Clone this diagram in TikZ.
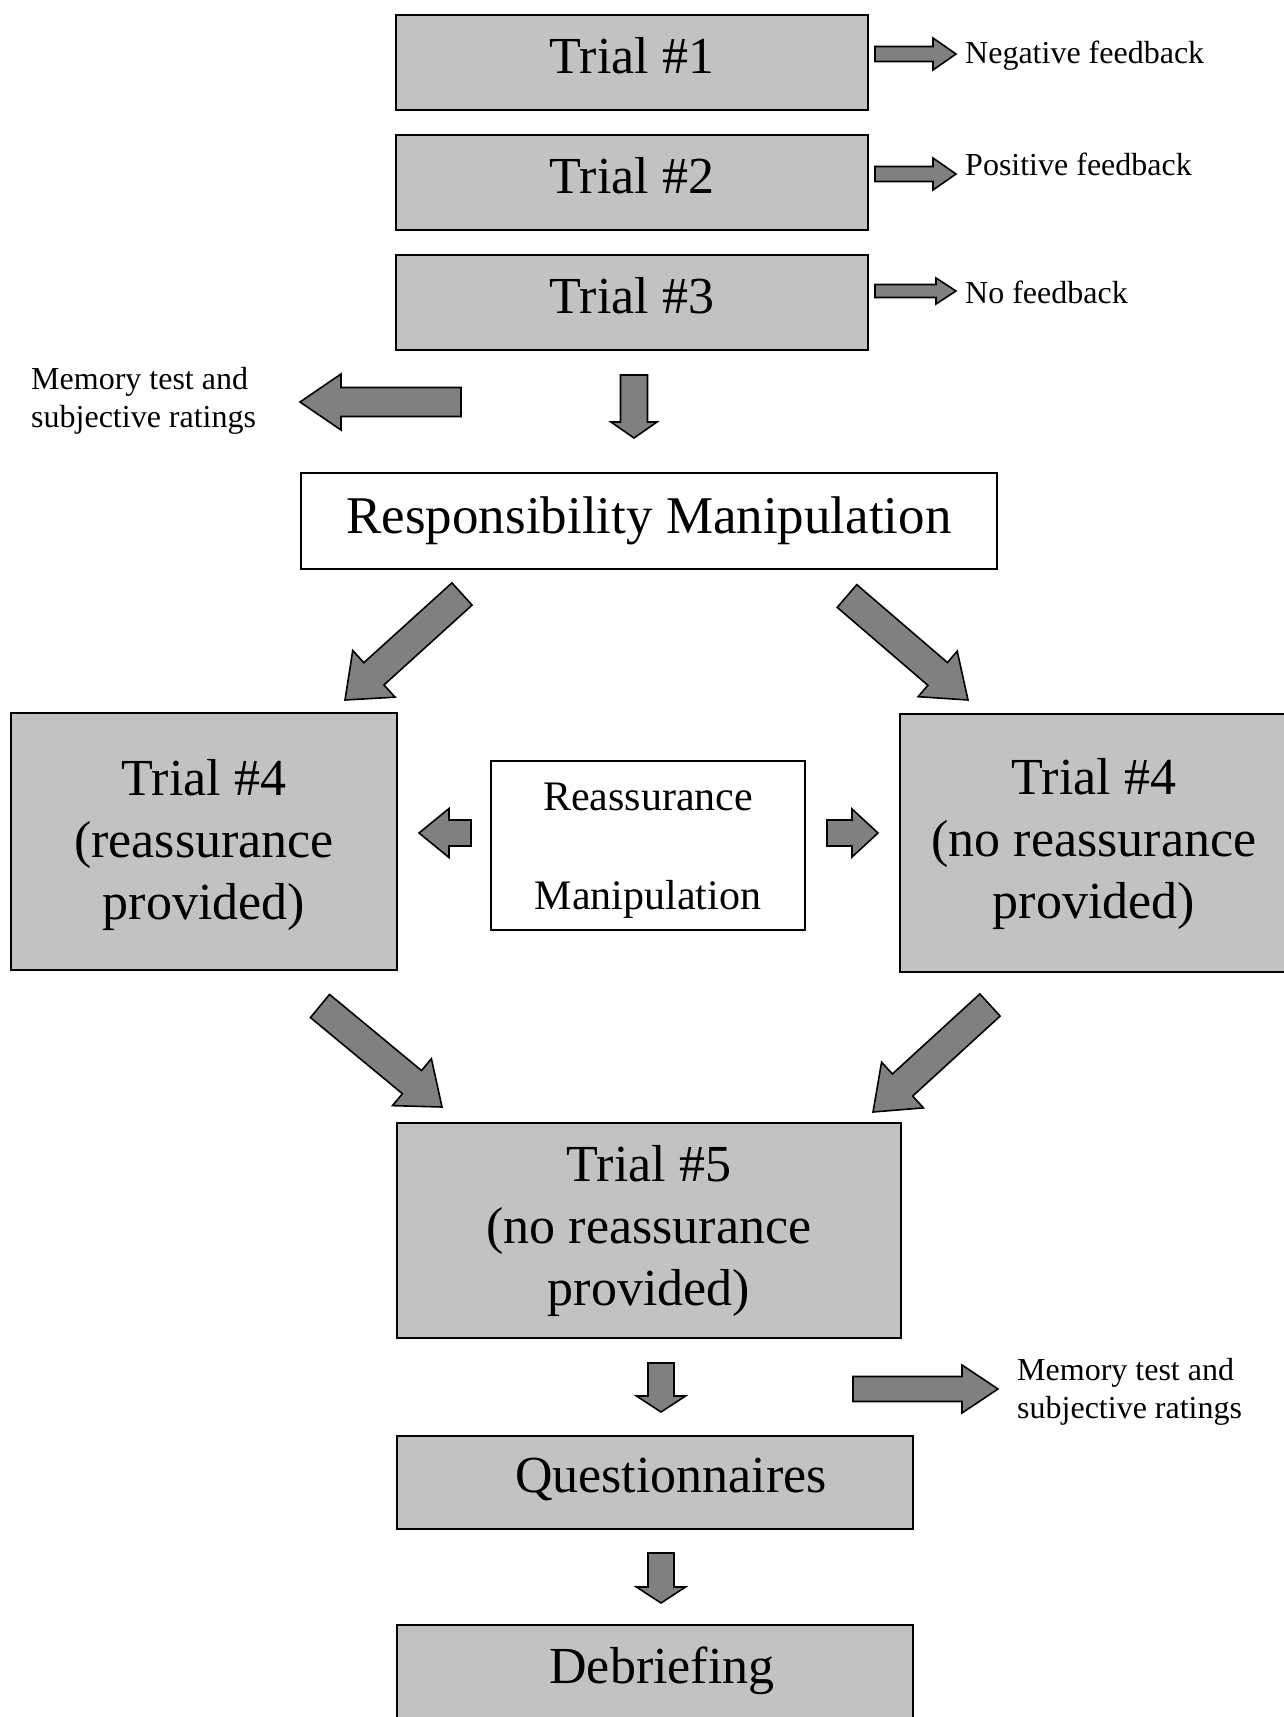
\documentclass[tikz,border=0pt]{standalone}
\usepackage{fontspec}
\setmainfont{Liberation Serif}
\usetikzlibrary{calc}
\definecolor{boxfill}{gray}{0.76}
\definecolor{arrowfill}{gray}{0.5}
\newcommand{\FontBig}{\fontsize{52}{62}\selectfont}
\newcommand{\FontResp}{\fontsize{53}{62}\selectfont}
\newcommand{\FontMid}{\fontsize{42}{99}\selectfont}
\newcommand{\FontSmall}{\fontsize{32}{38}\selectfont}
% tail, tip, shaft half width, head half width, head length (pt)
\newcommand{\blockarrow}[5]{%
  \coordinate (ba-h) at ($(#2)!#5pt!(#1)$);
  \draw[blockarr] ($(#1)!#3pt!90:(#2)$) -- ($(ba-h)!#3pt!90:(#2)$)
    -- ($(ba-h)!#4pt!90:(#2)$) -- (#2) -- ($(ba-h)!#4pt!-90:(#2)$)
    -- ($(ba-h)!#3pt!-90:(#2)$) -- ($(#1)!#3pt!-90:(#2)$) -- cycle;
}
\tikzset{
  gbox/.style={draw=black, line width=2pt, fill=boxfill, inner sep=0pt, align=center, font=\FontBig},
  wbox/.style={gbox, fill=white},
  blockarr/.style={draw=black, line width=1.6pt, fill=arrowfill},
  lbl/.style={inner sep=0pt, font=\FontSmall},
  intext/.style={font=\FontBig, inner sep=0pt, align=center},
}
\begin{document}
\begin{tikzpicture}[x=1pt, y=-1pt]
\useasboundingbox (0,0) rectangle (1284,1717);
\clip (0,0) rectangle (1284,1717);

% trials 1-3
\node[gbox, minimum width=472pt, minimum height=95pt, text height=36pt, text depth=14pt] (t1) at (632,62) {Trial \#1};
\node[gbox, minimum width=472pt, minimum height=95pt, text height=36pt, text depth=14pt] (t2) at (632,182.5) {Trial \#2};
\node[gbox, minimum width=472pt, minimum height=95pt, text height=36pt, text depth=14pt] (t3) at (632,302.5) {Trial \#3};

% feedback labels
\node[lbl, anchor=base west] (fb1) at (965,63) {Negative feedback};
\node[lbl, anchor=base west] (fb2) at (965,175) {Positive feedback};
\node[lbl, anchor=base west] (fb3) at (965,303) {No feedback};

% responsibility
\node[wbox, font=\FontResp, minimum width=696pt, minimum height=96pt] (rp) at (649,521) {Responsibility Manipulation};

% trial 4 boxes
\node[gbox, minimum width=386pt, minimum height=257pt,
      label={[intext, yshift=-3pt]center:Trial \#4\\(reassurance\\provided)}] (t4a) at (204,841.5) {};
\node[gbox, minimum width=388pt, minimum height=258pt,
      label={[intext, yshift=-1.5pt]center:Trial \#4\\(no reassurance\\provided)}] (t4b) at (1094,842.5) {};
\node[wbox, minimum width=314pt, minimum height=169pt,
      label={[intext, font=\FontMid, yshift=-5.5pt]center:Reassurance\\Manipulation}] (rm) at (648,845.5) {};

% trial 5
\node[gbox, minimum width=504pt, minimum height=215pt] (t5) at (649,1230.5) {Trial \#5\\(no reassurance\\provided)};

% questionnaires, debriefing
\node[gbox, minimum width=516pt, minimum height=93pt,
      label={[intext, xshift=16pt, yshift=3.5pt]center:Questionnaires}] (q) at (655,1482.5) {};
\node[gbox, minimum width=516pt, minimum height=110pt,
      label={[intext, xshift=7pt, yshift=9pt]center:Debriefing}] (d) at (655,1680) {};

% memory test labels
\node[lbl, anchor=west, align=left] (mem1) at (31,401) {Memory test and\\subjective ratings};
\node[lbl, anchor=west, align=left] (mem2) at (1017,1392) {Memory test and\\subjective ratings};

% arrow end points
\coordinate (a1s) at (875,54);   \coordinate (a1e) at (956,54);
\coordinate (a2s) at (875,174);  \coordinate (a2e) at (956,174);
\coordinate (a3s) at (875,291);  \coordinate (a3e) at (956,291);
\coordinate (mls) at (461,402);  \coordinate (mle) at (300,402);
\coordinate (d1s) at (634,375);  \coordinate (d1e) at (634,438);
\coordinate (ul-s) at (462,594); \coordinate (ul-e) at (345,700);
\coordinate (ur-s) at (847,596); \coordinate (ur-e) at (968,700);
\coordinate (sl-s) at (471,833); \coordinate (sl-e) at (419,833);
\coordinate (sr-s) at (827,833); \coordinate (sr-e) at (878,833);
\coordinate (ll-s) at (320,1006); \coordinate (ll-e) at (442,1107);
\coordinate (lr-s) at (990,1005); \coordinate (lr-e) at (873,1112);
\coordinate (d2s) at (661,1363); \coordinate (d2e) at (661,1412);
\coordinate (mrs) at (853,1389); \coordinate (mre) at (998,1389);
\coordinate (d3s) at (661,1553); \coordinate (d3e) at (661,1603);

\blockarrow{a1s}{a1e}{7.5}{16}{23}
\blockarrow{a2s}{a2e}{7.5}{16}{23}
\blockarrow{a3s}{a3e}{6.5}{13}{20}
\blockarrow{mls}{mle}{14.5}{28}{41}
\blockarrow{d1s}{d1e}{13.5}{23}{16}
\blockarrow{ul-s}{ul-e}{15}{31.5}{39}
\blockarrow{ur-s}{ur-e}{15}{30}{40}
\blockarrow{sl-s}{sl-e}{13}{24.5}{30}
\blockarrow{sr-s}{sr-e}{13}{24}{26}
\blockarrow{ll-s}{ll-e}{15}{30.5}{39}
\blockarrow{lr-s}{lr-e}{15}{31}{40}
\blockarrow{d2s}{d2e}{13}{24.5}{16}
\blockarrow{mrs}{mre}{12.5}{24}{36}
\blockarrow{d3s}{d3e}{13}{24.5}{16}
\end{tikzpicture}
\end{document}
